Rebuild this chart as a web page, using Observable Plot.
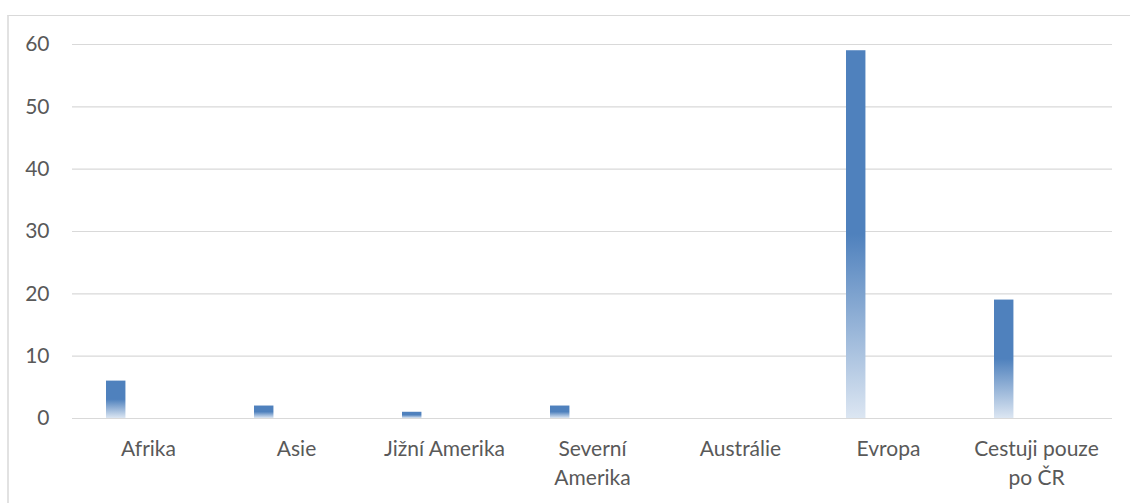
<!DOCTYPE html>
<html>
<head>
<meta charset="utf-8">
<script src="https://cdn.jsdelivr.net/npm/d3@7"></script>
<script src="https://cdn.jsdelivr.net/npm/@observablehq/plot@0.6"></script>
<style>
  html, body { margin: 0; padding: 0; background: #fff; overflow: hidden; }
  #wrap { position: relative; width: 1130px; height: 503px; }
  #frame { position: absolute; left: 7px; top: 15px; width: 1200px; height: 600px;
           border-top: 1px solid #d9d9d9; border-left: 2px solid #e2e2e2; box-sizing: border-box; }
  #chart { position: absolute; left: 0; top: 0; }
</style>
</head>
<body>
<div id="wrap"><div id="frame"></div><div id="chart"></div></div>
<script>
const categories = ["Afrika", "Asie", "Jižní Amerika", "Severní Amerika", "Austrálie", "Evropa", "Cestuji pouze po ČR"];
const values = [6, 2, 1, 2, 0, 59, 19];
const tickLabels = ["Afrika", "Asie", "Jižní Amerika", "Severní\nAmerika", "Austrálie", "Evropa", "Cestuji pouze\npo ČR"];
const yTicks = [0, 10, 20, 30, 40, 50, 60];

const data = categories.map((c, i) => ({category: c, value: values[i]}));
const labelOf = new Map(categories.map((c, i) => [c, tickLabels[i]]));

const W = 1130, H = 503;
const mL = 72, mR = 18, mT = 44, mB = 85;
const band = (W - mL - mR) / categories.length;

function gradientDefs() {
  const ns = "http://www.w3.org/2000/svg";
  const defs = document.createElementNS(ns, "defs");
  const g = document.createElementNS(ns, "linearGradient");
  g.setAttribute("id", "barGrad");
  g.setAttribute("x1", "0"); g.setAttribute("y1", "0");
  g.setAttribute("x2", "0"); g.setAttribute("y2", "1");
  [["0", "#4F81BD"], ["0.5", "#4F81BD"], ["1", "#DCE6F2"]].forEach(([o, c]) => {
    const s = document.createElementNS(ns, "stop");
    s.setAttribute("offset", o); s.setAttribute("stop-color", c);
    g.appendChild(s);
  });
  defs.appendChild(g);
  return defs;
}

const chart = Plot.plot({
  width: W,
  height: H,
  marginLeft: mL,
  marginRight: mR,
  marginTop: mT,
  marginBottom: mB,
  style: {fontFamily: "Lato, 'Open Sans', sans-serif", fontSize: "21px", color: "#595959", background: "transparent"},
  x: {domain: categories, padding: 0, label: null},
  y: {domain: [0, 60], label: null},
  marks: [
    gradientDefs,
    Plot.ruleY(yTicks, {stroke: "#d9d9d9", strokeWidth: 1.2, strokeOpacity: 1}),
    Plot.barY(data, {x: "category", y: "value", fill: "url(#barGrad)", insetLeft: 32, insetRight: band - 52}),
    Plot.axisY({ticks: yTicks, tickSize: 0, tickPadding: 23, label: null, fill: "#595959", fontSize: 21}),
    Plot.axisX({tickSize: 0, tickPadding: 17, label: null, tickFormat: d => labelOf.get(d), lineHeight: 1.38, fill: "#595959", fontSize: 21})
  ]
});
document.getElementById("chart").appendChild(chart);
</script>
</body>
</html>
